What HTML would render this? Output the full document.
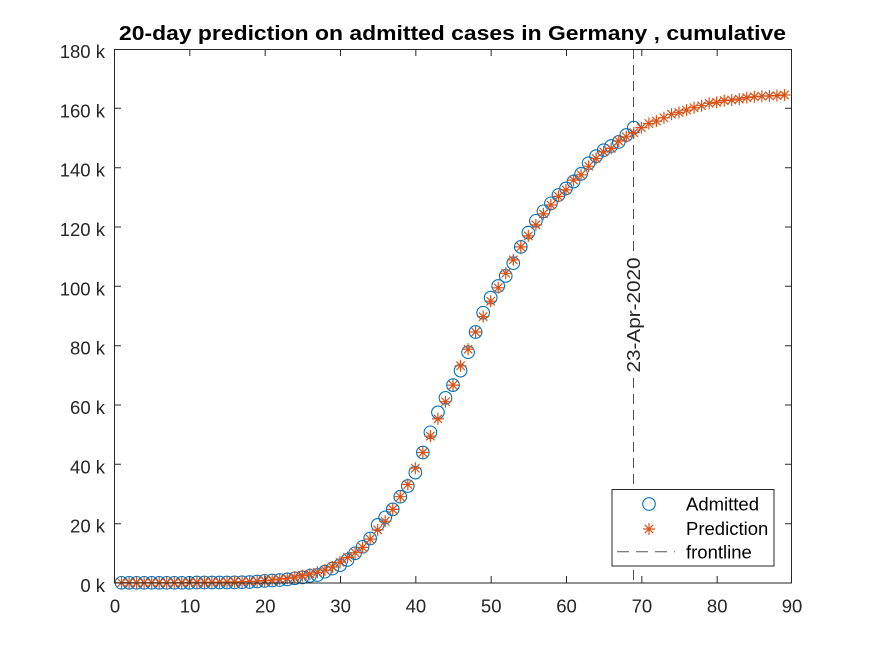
<!DOCTYPE html>
<html><head><meta charset="utf-8"><style>
html,body{margin:0;padding:0;background:#fff;}
svg{display:block;}
text{font-family:"Liberation Sans",Arial,sans-serif;fill:#262626;}
</style></head><body>
<svg width="875" height="656" viewBox="0 0 875 656" xmlns="http://www.w3.org/2000/svg">
<defs>
<g id="c"><circle r="6.3" fill="none" stroke="#0072BD" stroke-width="1.1"/></g>
<g id="s"><path d="M-6,0H6M0,-6V6M-4.2,-4.2L4.2,4.2M-4.2,4.2L4.2,-4.2" fill="none" stroke="#D95319" stroke-width="1.2"/></g>
</defs>
<rect width="875" height="656" fill="#fff"/>
<rect x="114" y="49" width="678" height="534" fill="#fff"/>

<!-- frontline -->
<line x1="633.5" y1="49" x2="633.5" y2="252" stroke="#555" stroke-width="1" stroke-dasharray="10,6"/>
<line x1="633.5" y1="378" x2="633.5" y2="583" stroke="#555" stroke-width="1" stroke-dasharray="10,6"/>
<text transform="translate(640,315) rotate(-90)" text-anchor="middle" font-size="18.5" textLength="115" lengthAdjust="spacingAndGlyphs">23-Apr-2020</text>

<!-- admitted -->
<g>
<use href="#c" x="121.53" y="582.8"/><use href="#c" x="129.07" y="582.8"/><use href="#c" x="136.6" y="582.8"/><use href="#c" x="144.13" y="582.8"/><use href="#c" x="151.67" y="582.8"/><use href="#c" x="159.2" y="582.8"/><use href="#c" x="166.73" y="582.8"/><use href="#c" x="174.27" y="582.8"/><use href="#c" x="181.8" y="582.8"/><use href="#c" x="189.33" y="582.8"/>
<use href="#c" x="196.87" y="582.5"/><use href="#c" x="204.4" y="582.5"/><use href="#c" x="211.93" y="582.5"/><use href="#c" x="219.47" y="582.5"/><use href="#c" x="227" y="582.5"/><use href="#c" x="234.53" y="582.4"/><use href="#c" x="242.07" y="582.2"/><use href="#c" x="249.6" y="582"/>
<use href="#c" x="257.13" y="581.5"/><use href="#c" x="264.67" y="580.9"/><use href="#c" x="272.2" y="580.5"/><use href="#c" x="279.73" y="580"/><use href="#c" x="287.27" y="579.4"/><use href="#c" x="294.8" y="578.3"/><use href="#c" x="302.33" y="577.4"/><use href="#c" x="309.87" y="575.9"/><use href="#c" x="317.4" y="575"/><use href="#c" x="324.93" y="571.7"/>
<use href="#c" x="332.47" y="568.5"/><use href="#c" x="340" y="565.2"/><use href="#c" x="347.53" y="559.9"/><use href="#c" x="355.07" y="553.3"/><use href="#c" x="362.6" y="546.8"/><use href="#c" x="370.13" y="538.5"/><use href="#c" x="377.67" y="524.9"/><use href="#c" x="385.2" y="517.4"/><use href="#c" x="392.73" y="509.4"/><use href="#c" x="400.27" y="496.7"/>
<use href="#c" x="407.8" y="486"/><use href="#c" x="415.33" y="472.6"/><use href="#c" x="422.87" y="452.5"/><use href="#c" x="430.4" y="432.3"/><use href="#c" x="437.93" y="412.4"/><use href="#c" x="445.47" y="397.9"/><use href="#c" x="453" y="385.1"/><use href="#c" x="460.53" y="370.6"/><use href="#c" x="468.07" y="352.2"/><use href="#c" x="475.6" y="332"/>
<use href="#c" x="483.13" y="312.7"/><use href="#c" x="490.67" y="297.6"/><use href="#c" x="498.2" y="286"/><use href="#c" x="505.73" y="275.9"/><use href="#c" x="513.27" y="263.2"/><use href="#c" x="520.8" y="246.9"/><use href="#c" x="528.33" y="232.6"/><use href="#c" x="535.87" y="220.8"/><use href="#c" x="543.4" y="211.3"/><use href="#c" x="550.93" y="203.3"/>
<use href="#c" x="558.47" y="195"/><use href="#c" x="566" y="188.4"/><use href="#c" x="573.53" y="181.6"/><use href="#c" x="581.07" y="173.9"/><use href="#c" x="588.6" y="163.2"/><use href="#c" x="596.13" y="156.1"/><use href="#c" x="603.67" y="150.2"/><use href="#c" x="611.2" y="146"/><use href="#c" x="618.73" y="141.9"/><use href="#c" x="626.27" y="135"/><use href="#c" x="633.8" y="127.6"/>
</g>

<!-- prediction -->
<g>
<use href="#s" x="121.53" y="582.7"/><use href="#s" x="129.07" y="582.7"/><use href="#s" x="136.6" y="582.7"/><use href="#s" x="144.13" y="582.7"/><use href="#s" x="151.67" y="582.7"/><use href="#s" x="159.2" y="582.7"/><use href="#s" x="166.73" y="582.7"/><use href="#s" x="174.27" y="582.7"/><use href="#s" x="181.8" y="582.6"/><use href="#s" x="189.33" y="582.5"/>
<use href="#s" x="196.87" y="582.4"/><use href="#s" x="204.4" y="582.3"/><use href="#s" x="211.93" y="582.2"/><use href="#s" x="219.47" y="582.1"/><use href="#s" x="227" y="582"/><use href="#s" x="234.53" y="581.9"/><use href="#s" x="242.07" y="581.7"/><use href="#s" x="249.6" y="581.5"/>
<use href="#s" x="257.13" y="581.2"/><use href="#s" x="264.67" y="580.6"/><use href="#s" x="272.2" y="580"/><use href="#s" x="279.73" y="579.1"/><use href="#s" x="287.27" y="578.3"/><use href="#s" x="294.8" y="577.1"/><use href="#s" x="302.33" y="575.6"/><use href="#s" x="309.87" y="574.1"/><use href="#s" x="317.4" y="572.3"/><use href="#s" x="324.93" y="570"/>
<use href="#s" x="332.47" y="567"/><use href="#s" x="340" y="562.2"/><use href="#s" x="347.53" y="557.5"/><use href="#s" x="355.07" y="552.7"/><use href="#s" x="362.6" y="547.4"/><use href="#s" x="370.13" y="539.1"/><use href="#s" x="377.67" y="529.9"/><use href="#s" x="385.2" y="521.3"/><use href="#s" x="392.73" y="509.4"/><use href="#s" x="400.27" y="496.7"/>
<use href="#s" x="407.8" y="484.5"/><use href="#s" x="415.33" y="468.2"/><use href="#s" x="422.87" y="452.5"/><use href="#s" x="430.4" y="436.1"/><use href="#s" x="437.93" y="418.9"/><use href="#s" x="445.47" y="401.7"/><use href="#s" x="453" y="385.1"/><use href="#s" x="460.53" y="365.8"/><use href="#s" x="468.07" y="349.2"/><use href="#s" x="475.6" y="332"/>
<use href="#s" x="483.13" y="316.6"/><use href="#s" x="490.67" y="301.2"/><use href="#s" x="498.2" y="287.8"/><use href="#s" x="505.73" y="273.3"/><use href="#s" x="513.27" y="259.9"/><use href="#s" x="520.8" y="246.9"/><use href="#s" x="528.33" y="235.9"/><use href="#s" x="535.87" y="224.9"/><use href="#s" x="543.4" y="213.9"/><use href="#s" x="550.93" y="205"/>
<use href="#s" x="558.47" y="196.4"/><use href="#s" x="566" y="189.9"/><use href="#s" x="573.53" y="180.1"/><use href="#s" x="581.07" y="174.8"/><use href="#s" x="588.6" y="166.2"/><use href="#s" x="596.13" y="158.5"/><use href="#s" x="603.67" y="151.9"/><use href="#s" x="611.2" y="148.4"/><use href="#s" x="618.73" y="141"/><use href="#s" x="626.27" y="136.8"/>
<use href="#s" x="633.8" y="132.7"/><use href="#s" x="641.33" y="127.6"/><use href="#s" x="648.87" y="123.5"/><use href="#s" x="656.4" y="121.1"/><use href="#s" x="663.93" y="117.8"/><use href="#s" x="671.47" y="114.3"/><use href="#s" x="679" y="112.5"/><use href="#s" x="686.53" y="110.1"/><use href="#s" x="694.07" y="107.7"/><use href="#s" x="701.6" y="105.7"/>
<use href="#s" x="709.13" y="103.3"/><use href="#s" x="716.67" y="102.4"/><use href="#s" x="724.2" y="100.6"/><use href="#s" x="731.73" y="100"/><use href="#s" x="739.27" y="99.1"/><use href="#s" x="746.8" y="97.6"/><use href="#s" x="754.33" y="96.8"/><use href="#s" x="761.87" y="96.2"/><use href="#s" x="769.4" y="95.9"/><use href="#s" x="776.93" y="95.6"/><use href="#s" x="784.47" y="95"/>
</g>

<!-- axes box -->
<rect x="114.5" y="49.5" width="677" height="533.5" fill="none" stroke="#262626" stroke-width="1"/>

<!-- ticks -->
<g stroke="#262626" stroke-width="1">
<path d="M114.5,583v-7M114.5,49v7M189.83,583v-7M189.83,49v7M265.17,583v-7M265.17,49v7M340.5,583v-7M340.5,49v7M415.83,583v-7M415.83,49v7M491.17,583v-7M491.17,49v7M566.5,583v-7M566.5,49v7M641.83,583v-7M641.83,49v7M717.17,583v-7M717.17,49v7M791.5,583v-7M791.5,49v7"/>
<path d="M114,583h7M792,583h-7M114,523.7h7M792,523.7h-7M114,464.3h7M792,464.3h-7M114,405h7M792,405h-7M114,345.7h7M792,345.7h-7M114,286.3h7M792,286.3h-7M114,227h7M792,227h-7M114,167.7h7M792,167.7h-7M114,108.3h7M792,108.3h-7M114,49.5h7M792,49.5h-7"/>
</g>

<!-- y tick labels -->
<g font-size="18.5" text-anchor="end">
<text x="105" y="592">0 k</text>
<text x="105" y="532.7">20 k</text>
<text x="105" y="473.3">40 k</text>
<text x="105" y="414">60 k</text>
<text x="105" y="354.7">80 k</text>
<text x="105" y="295.3">100 k</text>
<text x="105" y="236">120 k</text>
<text x="105" y="176.7">140 k</text>
<text x="105" y="117.3">160 k</text>
<text x="105" y="58">180 k</text>
</g>

<!-- x tick labels -->
<g font-size="18.5" text-anchor="middle">
<text x="115" y="612.7">0</text>
<text x="190" y="612.7">10</text>
<text x="265.3" y="612.7">20</text>
<text x="340.6" y="612.7">30</text>
<text x="415.9" y="612.7">40</text>
<text x="491.2" y="612.7">50</text>
<text x="566.5" y="612.7">60</text>
<text x="641.9" y="612.7">70</text>
<text x="717.2" y="612.7">80</text>
<text x="792" y="612.7">90</text>
</g>

<!-- title -->
<text x="452.5" y="40" text-anchor="middle" font-size="20" font-weight="bold" style="fill:#000" textLength="667" lengthAdjust="spacingAndGlyphs">20-day prediction on admitted cases in Germany , cumulative</text>

<!-- legend -->
<rect x="612" y="489.5" width="162" height="76.5" fill="#fff" stroke="#262626" stroke-width="1"/>
<circle cx="649" cy="504" r="6.3" fill="none" stroke="#0072BD" stroke-width="1.1"/>
<use href="#s" x="649" y="529"/>
<line x1="617" y1="551.7" x2="675" y2="551.7" stroke="#555" stroke-width="1" stroke-dasharray="12,7"/>
<g font-size="18.5">
<text x="686" y="510.5" style="fill:#000">Admitted</text>
<text x="686" y="535" style="fill:#000">Prediction</text>
<text x="686" y="558.3" style="fill:#000">frontline</text>
</g>
</svg>
</body></html>
